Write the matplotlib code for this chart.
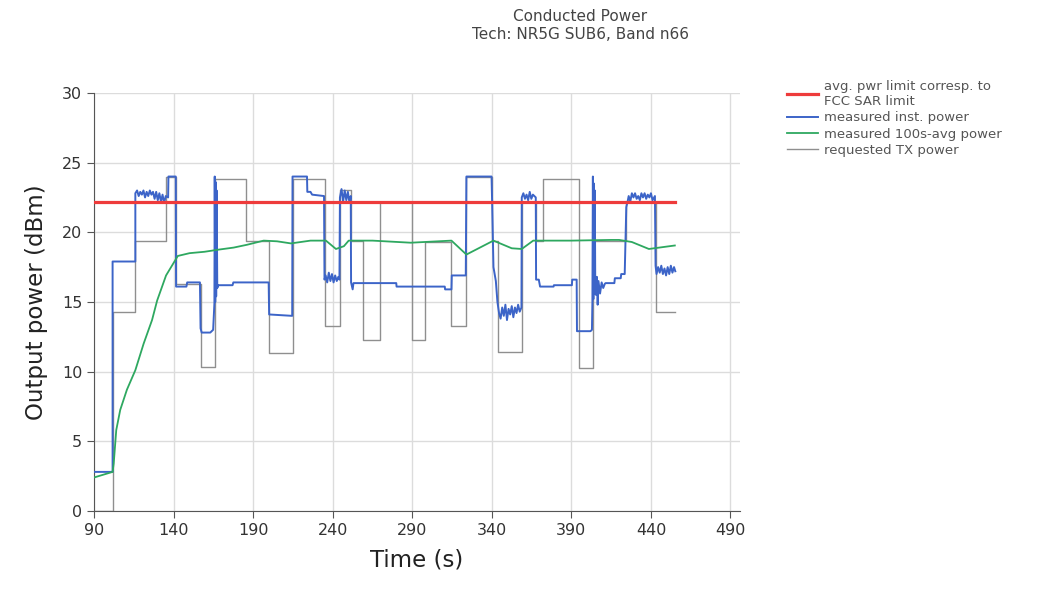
import matplotlib.pyplot as plt

plt.rcParams['font.family'] = ['DejaVu Sans']

# data
limit_t = [90, 455.3]
limit_p = [22.2, 22.2]

inst_t = [90, 101.6, 101.6, 115.9, 115.9, 117, 118, 119, 120, 121, 122, 123, 124, 125, 126, 127, 128, 129,
          130, 131, 132, 133, 134, 135, 136.5, 136.7, 141.3, 141.5, 148, 148.5, 156.5, 156.9, 157.6, 158.6,
          163, 164.8, 165.6, 165.8, 166.1, 166.4, 166.7, 167.0, 167.4, 168, 177, 177.5, 199.7, 200, 214.5,
          214.7, 223.8, 224, 226, 227, 234.5, 234.8, 235.5, 236.5, 237.5, 238.5, 239.5, 240.5, 241.5, 242.5,
          243.5, 244.2, 244.5, 245.5, 246.5, 247.5, 248.5, 249.5, 250.5, 251.3, 251.5, 252.5, 253, 279.9,
          280.1, 310.4, 310.6, 314.6, 314.8, 323.6, 324, 339.8, 340.2, 341, 342.5, 343.5, 344.5, 345.5,
          346.5, 347.5, 348.5, 349.5, 350.5, 351.5, 352.5, 353.5, 354.5, 355.5, 356.5, 357.5, 358.6, 358.8,
          359.8, 360.8, 361.8, 362.8, 363.8, 364.8, 365.8, 367.6, 367.8, 369.5, 370.3, 378.8, 379, 390.3,
          390.5, 393.3, 393.5, 394.5, 402, 402.9, 403.2, 403.5, 403.8, 404.1, 404.4, 404.7, 405.0, 405.5,
          406, 406.5, 407, 408, 409, 410, 411, 411.5, 417, 417.3, 421, 421.3, 423.5, 424.5, 425.5, 426,
          427, 428, 429, 430, 431, 432, 433, 434, 435, 436, 437, 438, 439, 440, 441, 442.5, 442.9, 443.5,
          444.5, 445.5, 446.5, 447.5, 448.5, 449.5, 450.5, 451.5, 452.5, 453.5, 454.5, 455.3]
inst_p = [2.8, 2.8, 17.9, 17.9, 22.8, 23.0, 22.6, 22.9, 22.7, 23.0, 22.5, 22.9, 22.6, 23.0, 22.7, 22.9, 22.4,
          22.9, 22.3, 22.8, 22.2, 22.7, 22.1, 22.6, 22.5, 24.0, 24.0, 16.1, 16.1, 16.4, 16.4, 13.1, 12.8,
          12.8, 12.8, 13.0, 14.9, 24.0, 15.0, 23.6, 15.4, 23.0, 16.0, 16.2, 16.2, 16.4, 16.4, 14.1, 14.0,
          24.0, 24.0, 22.9, 22.9, 22.7, 22.6, 16.6, 16.9, 16.4, 17.1, 16.5, 17.0, 16.4, 16.9, 16.5, 16.8,
          16.6, 22.5, 23.1, 22.2, 23.0, 22.3, 22.9, 22.1, 22.6, 16.4, 15.9, 16.35, 16.35, 16.1, 16.1, 15.9,
          15.9, 16.9, 16.9, 24.0, 24.0, 22.0, 17.5, 16.5, 15.0, 14.2, 13.8, 14.6, 14.0, 14.8, 13.7, 14.5,
          14.1, 14.7, 13.9, 14.6, 14.2, 14.8, 14.3, 14.6, 22.5, 22.8, 22.4, 22.7, 22.3, 22.9, 22.4, 22.7,
          22.5, 16.6, 16.6, 16.1, 16.1, 16.2, 16.2, 16.6, 16.6, 12.9, 12.9, 12.9, 13.0, 15.0, 24.0, 15.2,
          23.5, 15.6, 23.0, 16.0, 15.5, 16.8, 14.8, 16.5, 15.6, 16.4, 16.0, 16.3, 16.35, 16.35, 16.7, 16.7,
          17.0, 17.0, 21.8, 22.3, 22.6, 22.2, 22.8, 22.5, 22.8, 22.4, 22.6, 22.3, 22.8, 22.5, 22.8, 22.4,
          22.7, 22.5, 22.8, 22.3, 22.6, 17.6, 17.0, 17.5, 17.1, 17.6, 17.0, 17.4, 16.9, 17.5, 17.0, 17.6,
          17.1, 17.5, 17.2]

avg_t = [90, 101.6, 102.3, 103.9, 106.4, 110.6, 115.9, 121.1, 126.4, 129.6, 135.2, 142.6, 150, 159.4, 168,
         177.7, 186, 196.6, 205, 213.7, 226, 235.7, 242, 247, 250, 265, 289, 314.6, 324, 341, 352.5,
         358.8, 366, 390, 415, 420, 428, 438.7, 455]
avg_p = [2.4, 2.8, 3.4, 5.8, 7.25, 8.7, 10.1, 12.0, 13.7, 15.1, 16.9, 18.3, 18.5, 18.6, 18.75, 18.9, 19.1,
         19.4, 19.35, 19.2, 19.4, 19.4, 18.8, 19.0, 19.4, 19.4, 19.25, 19.4, 18.4, 19.4, 18.85, 18.8, 19.4,
         19.4, 19.45, 19.45, 19.3, 18.8, 19.05]

req_t = [90, 101.6, 101.6, 115.7, 115.7, 135.2, 135.2, 141.5, 141.5, 156.9, 156.9, 165.9, 165.9, 185.3,
         185.3, 200, 200, 214.7, 214.7, 234.9, 234.9, 244.3, 244.3, 251.5, 251.5, 258.9, 258.9, 269.4,
         269.4, 290, 290, 297.8, 297.8, 314.6, 314.6, 324, 324, 339.8, 339.8, 344, 344, 358.8, 358.8,
         367.8, 367.8, 372.4, 372.4, 394.5, 394.5, 403.5, 403.5, 424, 424, 442.9, 442.9, 455.3]
req_p = [0, 0, 14.3, 14.3, 19.4, 19.4, 24.0, 24.0, 16.3, 16.3, 10.3, 10.3, 23.8, 23.8, 19.4, 19.4, 11.3,
         11.3, 23.8, 23.8, 13.3, 13.3, 23.0, 23.0, 19.4, 19.4, 12.3, 12.3, 22.2, 22.2, 12.3, 12.3, 19.3,
         19.3, 13.3, 13.3, 24.0, 24.0, 19.4, 19.4, 11.4, 11.4, 22.2, 22.2, 19.4, 19.4, 23.8, 23.8, 10.25,
         10.25, 19.4, 19.4, 22.2, 22.2, 14.3, 14.3]

fig = plt.figure(figsize=(10.46, 5.92), dpi=100)
ax = fig.add_axes([0.090, 0.137, 0.6175, 0.706])

ax.plot(limit_t, limit_p, color='#ee3b3b', lw=2.3, label='avg. pwr limit corresp. to\nFCC SAR limit', zorder=5)
ax.plot(inst_t, inst_p, color='#3c64c8', lw=1.4, label='measured inst. power', zorder=3)
ax.plot(avg_t, avg_p, color='#2ea860', lw=1.3, label='measured 100s-avg power', zorder=4)
ax.plot(req_t, req_p, color='#8f8f8f', lw=1.0, label='requested TX power', zorder=2)

ax.set_xlim(90, 496)
ax.set_ylim(0, 30)
ax.set_xticks(range(90, 491, 50))
ax.set_yticks(range(0, 31, 5))
ax.grid(color='#dcdcdc', lw=1)
ax.set_axisbelow(True)
for s in ['top', 'right']:
    ax.spines[s].set_visible(False)
for s in ['left', 'bottom']:
    ax.spines[s].set_color('#555555')
ax.tick_params(colors='#555555', labelcolor='#333333', labelsize=11.5, length=5)

ax.set_xlabel('Time (s)', fontsize=16.5, color='#222222', labelpad=8)
ax.set_ylabel('Output power (dBm)', fontsize=16.5, color='#222222', labelpad=10)

fig.text(0.555, 0.985, 'Conducted Power\nTech: NR5G SUB6, Band n66', ha='center', va='top',
         fontsize=11, color='#444444', linespacing=1.3)

fig.legend(loc='upper left', bbox_to_anchor=(0.752, 0.865), frameon=False, fontsize=9.5,
           labelcolor='#555555', handlelength=2.4, handletextpad=0.45, labelspacing=0.25,
           borderaxespad=0, borderpad=0)

fig.savefig('out.png', dpi=100)
